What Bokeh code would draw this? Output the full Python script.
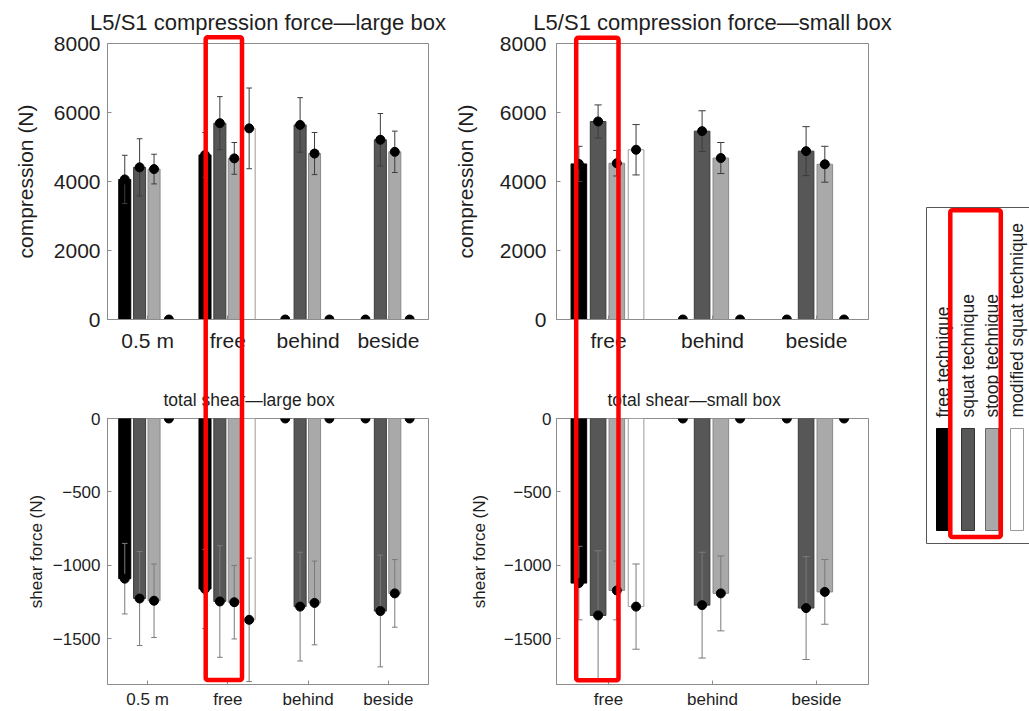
import numpy as np
from bokeh.plotting import figure
from bokeh.models import FactorRange, Range1d, ColumnDataSource, FixedTicker, Div
from bokeh.transform import dodge
from bokeh.layouts import row, column
from bokeh.embed import file_html
from bokeh.resources import INLINE
from bokeh.core.properties import value

FONT = "Liberation Sans"

# ---------------- data ----------------
series_names = ["free technique", "squat technique", "stoop technique", "modified squat technique"]
series_fill = ["#000000", "#575757", "#a9a9a9", "#ffffff"]
series_line = ["#000000", "#3a3a3a", "#8a8a8a", "#9a9a9a"]

# L5/S1 compression force - large box
comp_large_cats = ["0.5 m", "free", "behind", "beside"]
comp_large_free = [4060, 4770, 0, 0]
comp_large_free_sd = [700, 650, 0, 0]
comp_large_squat = [4410, 5690, 5640, 5210]
comp_large_squat_sd = [830, 770, 790, 760]
comp_large_stoop = [4360, 4670, 4810, 4860]
comp_large_stoop_sd = [430, 460, 610, 600]
comp_large_mod = [0, 5540, 0, 0]
comp_large_mod_sd = [0, 1170, 0, 0]

# L5/S1 compression force - small box
comp_small_cats = ["free", "behind", "beside"]
comp_small_free = [4510, 0, 0]
comp_small_free_sd = [510, 0, 0]
comp_small_squat = [5740, 5460, 4880]
comp_small_squat_sd = [480, 590, 710]
comp_small_stoop = [4530, 4680, 4500]
comp_small_stoop_sd = [370, 450, 520]
comp_small_mod = [4920, 0, 0]
comp_small_mod_sd = [730, 0, 0]

# total shear - large box
shear_large_cats = ["0.5 m", "free", "behind", "beside"]
shear_large_free = [-1090, -1160, 0, 0]
shear_large_free_sd = [240, 270, 0, 0]
shear_large_squat = [-1225, -1245, -1280, -1310]
shear_large_squat_sd = [320, 380, 370, 380]
shear_large_stoop = [-1240, -1250, -1255, -1190]
shear_large_stoop_sd = [250, 250, 285, 230]
shear_large_mod = [0, -1370, 0, 0]
shear_large_mod_sd = [0, 420, 0, 0]

# total shear - small box
shear_small_cats = ["free", "behind", "beside"]
shear_small_free = [-1120, 0, 0]
shear_small_free_sd = [250, 0, 0]
shear_small_squat = [-1340, -1270, -1290]
shear_small_squat_sd = [440, 360, 350]
shear_small_stoop = [-1170, -1190, -1180]
shear_small_stoop_sd = [200, 255, 220]
shear_small_mod = [-1280, 0, 0]
shear_small_mod_sd = [290, 0, 0]

comp_ticks = [0, 2000, 4000, 6000, 8000]
shear_ticks = [-1500, -1000, -500, 0]

# ---------------- style ----------------
bar_offsets = [-0.285, -0.1, 0.08, 0.265]
BAR_W = 0.15
CAP = 0.035
AX = "#8c8c8c"
TXT = "#1e1e1e"


def make_panel(cats, means, sds, yr, yticks, width, height, mb, fs_tick, fs_xtick,
               ylab, fs_ylab, ylab_standoff, ytick_standoff, xtick_standoff, err_color,
               title, fs_title, title_align, title_offset, title_standoff, title_valign):
    p = figure(x_range=FactorRange(factors=cats, range_padding=0), y_range=Range1d(*yr),
               width=width, height=height, output_backend="svg", toolbar_location=None,
               tools="", min_border_left=mb[0], min_border_right=mb[1],
               min_border_top=mb[2], min_border_bottom=mb[3])
    p.xgrid.visible = False
    p.ygrid.visible = False
    p.outline_line_color = AX
    p.background_fill_color = "white"

    # bars
    for k in range(4):
        idx = [i for i, v in enumerate(means[k]) if v != 0]
        src = ColumnDataSource(dict(cat=[cats[i] for i in idx], val=[means[k][i] for i in idx]))
        p.vbar(x=dodge("cat", bar_offsets[k], range=p.x_range), top="val", bottom=0,
               width=BAR_W, fill_color=series_fill[k], line_color=series_line[k],
               line_width=1, source=src)
    # error bars + markers
    for k in range(4):
        idx = [i for i, s in enumerate(sds[k]) if s > 0]
        src = ColumnDataSource(dict(cat=[cats[i] for i in idx],
                                    lo=[means[k][i] - sds[k][i] for i in idx],
                                    hi=[means[k][i] + sds[k][i] for i in idx]))
        off = bar_offsets[k]
        p.segment(x0=dodge("cat", off, range=p.x_range), x1=dodge("cat", off, range=p.x_range),
                  y0="lo", y1="hi", line_color=err_color, line_width=1, source=src)
        for end in ("lo", "hi"):
            p.segment(x0=dodge("cat", off - CAP, range=p.x_range),
                      x1=dodge("cat", off + CAP, range=p.x_range),
                      y0=end, y1=end, line_color=err_color, line_width=1, source=src)
    for k in range(4):
        src = ColumnDataSource(dict(cat=cats, val=means[k]))
        p.scatter(x=dodge("cat", bar_offsets[k], range=p.x_range), y="val", size=9,
                  fill_color="black", line_color="black", source=src)

    # axes
    xa = p.xaxis[0]
    xa.major_tick_in = 4
    xa.major_tick_out = 0
    xa.axis_line_color = AX
    xa.major_tick_line_color = AX
    xa.major_label_text_font = FONT
    xa.major_label_text_font_size = fs_xtick
    xa.major_label_text_color = TXT
    xa.major_label_standoff = xtick_standoff

    ya = p.yaxis[0]
    ya.ticker = FixedTicker(ticks=yticks)
    ya.major_tick_in = 4
    ya.major_tick_out = 0
    ya.minor_tick_line_color = None
    ya.axis_line_color = AX
    ya.major_tick_line_color = AX
    ya.major_label_text_font = FONT
    ya.major_label_text_font_size = fs_tick
    ya.major_label_text_color = TXT
    ya.major_label_standoff = ytick_standoff
    ya.axis_label = ylab
    ya.axis_label_text_font = FONT
    ya.axis_label_text_font_size = fs_ylab
    ya.axis_label_text_font_style = "normal"
    ya.axis_label_text_color = TXT
    ya.axis_label_standoff = ylab_standoff

    p.title.text = title
    p.title.align = title_align
    p.title.vertical_align = title_valign
    p.title.offset = title_offset
    p.title.text_font = FONT
    p.title.text_font_size = fs_title
    p.title.text_font_style = "normal"
    p.title.text_color = TXT
    p.title.standoff = title_standoff
    return p


# ---- top-left
tl = make_panel(comp_large_cats,
                [comp_large_free, comp_large_squat, comp_large_stoop, comp_large_mod],
                [comp_large_free_sd, comp_large_squat_sd, comp_large_stoop_sd, comp_large_mod_sd],
                (0, 8000), comp_ticks, 450, 357, (106, 22, 43, 38), "21px", "21px",
                "compression (N)", "21px", 14, 7, 9, "#3c3c3c",
                "L5/S1 compression force\u2014large box", "22px", "center", 0, 14, "top")

# ---- top-right
tr = make_panel(comp_small_cats,
                [comp_small_free, comp_small_squat, comp_small_stoop, comp_small_mod],
                [comp_small_free_sd, comp_small_squat_sd, comp_small_stoop_sd, comp_small_mod_sd],
                (0, 8000), comp_ticks, 448, 357, (98, 30, 43, 38), "21px", "21px",
                "compression (N)", "21px", 20, 10, 9, "#3c3c3c",
                "L5/S1 compression force\u2014small box", "22px", "center", 0, 14, "top")

# ---- bottom-left
bl = make_panel(shear_large_cats,
                [shear_large_free, shear_large_squat, shear_large_stoop, shear_large_mod],
                [shear_large_free_sd, shear_large_squat_sd, shear_large_stoop_sd, shear_large_mod_sd],
                (-1810, 0), shear_ticks, 450, 354, (107, 22, 61, 25), "17px", "17px",
                "shear force (N)", "17px", 4, 7, 5, "#7a7a7a",
                "total shear\u2014large box", "17.5px", "left", 56, 18, "bottom")

# ---- bottom-right
br = make_panel(shear_small_cats,
                [shear_small_free, shear_small_squat, shear_small_stoop, shear_small_mod],
                [shear_small_free_sd, shear_small_squat_sd, shear_small_stoop_sd, shear_small_mod_sd],
                (-1810, 0), shear_ticks, 448, 354, (98, 26, 61, 25), "17px", "17px",
                "shear force (N)", "17px", 12, 5, 5, "#7a7a7a",
                "total shear\u2014small box", "17.5px", "left", 51, 18, "bottom")

# ---- legend (rotated, MATLAB style)
LW, LH = 131, 711
lg = figure(width=LW, height=LH, x_range=Range1d(0, LW), y_range=Range1d(0, LH),
            output_backend="svg", toolbar_location=None, tools="", min_border=0,
            x_axis_location=None, y_axis_location=None)
lg.xgrid.visible = False
lg.ygrid.visible = False
lg.outline_line_color = None
lg.quad(left=28, right=LW + 20, bottom=168, top=504, fill_color=None, line_color="#555555",
        line_width=1)
sw_left = [38, 63, 87, 112]
sw_right = [51, 76, 100, 125]
lg.quad(left=sw_left, right=sw_right, bottom=181, top=283, fill_color=series_fill,
        line_color=["#000000", "#333333", "#666666", "#999999"], line_width=1)
lg.text(x=[(a + b) / 2 for a, b in zip(sw_left, sw_right)], y=[294] * 4, text=series_names,
        angle=np.pi / 2, text_align="left", text_baseline="middle",
        text_font=value(FONT), text_font_size="17.5px", text_color=TXT)

# ---- red highlight frames drawn over the page (annotation overlay)
red_frames = [(200.7, 32.3, 36.3, 642.7), (571.2, 32.8, 42.3, 642.5), (945.3, 205.3, 50.5, 326.7)]
svg = ('<svg xmlns="http://www.w3.org/2000/svg" width="1029" height="711" '
       'style="position:absolute;left:0;top:0;overflow:visible">' +
       "".join(f'<rect x="{x}" y="{y}" width="{w}" height="{h}" rx="2" fill="none" '
               f'stroke="#ff0000" stroke-width="4.5"/>' for x, y, w, h in red_frames) +
       '</svg>')
overlay = Div(text=svg, width=1029, height=711,
              styles={"position": "absolute", "left": "0px", "top": "0px",
                      "pointer-events": "none", "z-index": "10"})

layout = row(column(tl, bl), column(tr, br), lg, overlay)
open("out.html", "w").write(file_html(layout, INLINE))
